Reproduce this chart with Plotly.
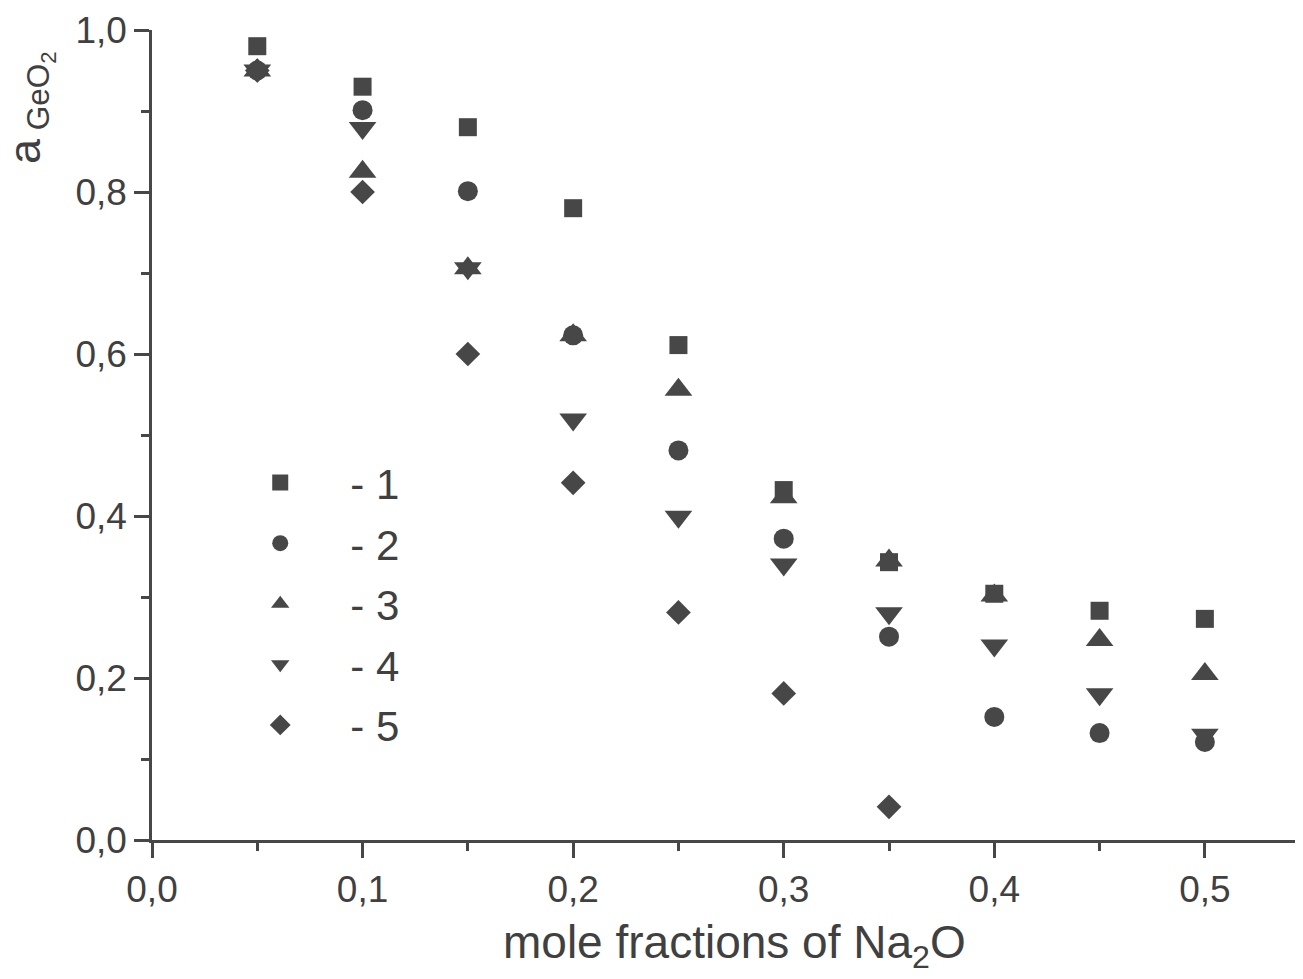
import plotly.graph_objects as go

x = [0.05, 0.10, 0.15, 0.20, 0.25, 0.30, 0.35, 0.40, 0.45, 0.50]
s1 = [0.980, 0.930, 0.880, 0.780, 0.611, 0.432, 0.343, 0.304, 0.283, 0.273]
s2 = [0.950, 0.901, 0.801, 0.623, 0.481, 0.372, 0.251, 0.152, 0.132, 0.121]
s3 = [0.950, 0.825, 0.706, 0.623, 0.556, 0.423, 0.345, 0.302, 0.247, 0.205]
s4 = [0.950, 0.879, 0.706, 0.519, 0.399, 0.340, 0.280, 0.240, 0.180, 0.130]
x5 = [0.05, 0.10, 0.15, 0.20, 0.25, 0.30, 0.35]
s5 = [0.950, 0.800, 0.600, 0.441, 0.281, 0.181, 0.041]

pad = "\u00a0\u00a0\u00a0"
names = [pad + "- 1", pad + "- 2", pad + "- 3", pad + "- 4", pad + "- 5"]
symbols = ["square", "circle", "triangle-up", "triangle-down", "diamond"]
sizes = [18, 20, 24, 24, 19]
ys = [s1, s2, s3, s4, s5]
xs = [x, x, x, x, x5]

col = "#474747"
font = "Liberation Sans, Arial, sans-serif"

fig = go.Figure()
for i in range(5):
    fig.add_trace(go.Scatter(
        x=xs[i], y=ys[i], mode="markers", name=names[i],
        legendgroup=str(i),
        marker=dict(symbol=symbols[i], size=sizes[i], color=col, line=dict(width=0)),
    ))

axis_common = dict(
    showgrid=False, zeroline=False, showline=True, linecolor=col, linewidth=2.5,
    ticks="outside", ticklen=15, tickwidth=2.5, tickcolor=col,
    tickfont=dict(family=font, size=37, color="#404040"),
    tickformat=".1f",
)

fig.update_layout(
    width=1295, height=963,
    margin=dict(l=144, r=0, t=22, b=131),
    paper_bgcolor="white", plot_bgcolor="white",
    separators=",.",
    font=dict(family=font, color="#404040"),
    showlegend=True,
    legend=dict(
        x=0.081, y=0.483, xanchor="left", yanchor="top",
        font=dict(family=font, size=42, color="#404040"),
        tracegroupgap=3, itemwidth=60, bgcolor="rgba(0,0,0,0)",
    ),
    xaxis=dict(range=[0, 0.5466], dtick=0.1, tick0=0,
               minor=dict(dtick=0.05, ticks="outside", ticklen=8, tickwidth=2.5, tickcolor=col),
               **axis_common),
    yaxis=dict(range=[0, 1.0], dtick=0.2, tick0=0,
               minor=dict(dtick=0.1, ticks="outside", ticklen=8, tickwidth=2.5, tickcolor=col),
               **axis_common),
    annotations=[
        dict(text="mole fractions of Na<sub>2</sub>O", xref="paper", yref="paper",
             x=0.5065, y=-0.13, xanchor="center", yanchor="middle", showarrow=False,
             font=dict(family=font, size=46, color="#404040")),
        dict(text="a<sub> GeO<sub>2</sub></sub>", xref="paper", yref="paper",
             x=-0.106, y=0.905, xanchor="center", yanchor="middle", showarrow=False,
             textangle=-90, font=dict(family=font, size=45, color="#404040")),
    ],
)

fig.write_html("out.html")
